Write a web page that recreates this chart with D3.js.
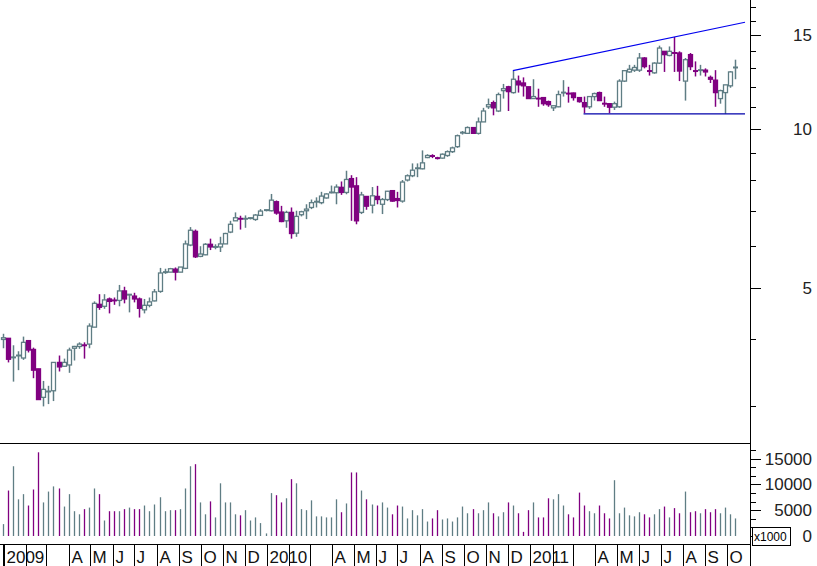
<!DOCTYPE html>
<html><head><meta charset="utf-8">
<script src="https://cdn.jsdelivr.net/npm/d3@7"></script>
<style>body{margin:0;background:#fff}svg{display:block}text{font-family:"Liberation Sans",Arial,sans-serif}</style>
</head><body>
<script>
const opens  =[4.00,4.02,3.69,3.71,3.69,3.98,3.83,3.52,3.11,3.19,3.20,3.62,3.56,3.58,3.85,3.88,3.92,3.92,4.22,4.66,4.62,4.77,4.75,4.74,4.94,4.85,4.83,4.77,4.55,4.64,4.73,4.93,5.33,5.36,5.43,5.36,5.45,6.03,6.40,5.74,5.78,6.05,5.97,5.98,6.06,6.38,6.70,6.80,6.75,6.74,6.74,6.86,7.00,7.00,7.28,6.96,6.70,6.95,6.35,6.88,7.00,7.10,7.25,7.25,7.40,7.54,7.57,7.75,7.58,8.05,7.80,6.95,7.45,7.17,7.45,7.20,7.35,7.64,7.38,7.30,8.00,8.15,8.38,8.40,8.82,8.92,8.85,8.80,8.90,9.05,9.25,9.80,9.80,10.05,9.80,10.30,11.00,11.20,10.80,11.80,12.00,11.70,12.30,12.20,12.00,11.40,11.45,11.45,11.25,10.95,11.00,11.65,11.70,11.68,11.45,11.20,11.00,11.50,11.70,11.20,11.15,10.98,11.00,12.30,12.80,12.90,12.90,13.60,12.90,12.75,13.30,14.00,13.75,13.95,13.90,12.30,13.80,12.90,12.85,12.90,12.50,12.35,11.40,11.70,12.05,13.00];
const highs  =[4.10,4.02,3.90,3.80,4.05,3.98,3.86,3.52,3.34,3.27,3.62,3.73,3.68,3.86,3.89,3.95,3.95,4.29,4.72,4.87,4.87,4.80,4.80,5.07,5.03,4.87,4.90,4.80,4.77,4.80,4.98,5.46,5.44,5.46,5.47,5.48,6.15,6.52,6.45,6.00,6.08,6.20,6.05,6.25,6.36,6.70,6.95,6.85,6.86,6.80,6.90,7.05,7.03,7.53,7.32,7.15,7.00,7.10,7.00,7.00,7.20,7.35,7.42,7.60,7.55,7.81,7.85,7.95,8.33,8.17,8.10,7.60,7.45,7.76,7.80,7.40,7.63,7.66,7.60,8.00,8.20,8.60,8.60,9.10,8.95,8.95,8.85,8.98,9.10,9.25,9.75,9.90,10.10,10.05,10.50,10.95,11.40,11.30,11.70,12.15,12.05,12.87,12.60,12.50,12.00,12.40,11.90,11.45,11.30,11.05,11.80,12.35,12.00,11.70,11.45,11.50,11.50,11.70,11.75,11.50,11.15,11.25,12.40,12.90,13.20,13.20,13.90,13.65,13.20,13.35,14.35,14.00,14.30,14.90,14.00,13.60,13.90,13.40,13.20,13.00,12.60,12.90,11.85,12.10,12.85,13.50];
const lows   =[3.85,3.62,3.33,3.50,3.66,3.78,3.38,3.08,2.99,3.02,3.06,3.48,3.55,3.46,3.65,3.84,3.68,3.85,4.22,4.55,4.57,4.48,4.65,4.62,4.68,4.50,4.70,4.40,4.48,4.60,4.72,4.90,5.32,5.36,5.17,5.36,5.43,6.00,5.70,5.72,5.77,5.90,5.92,5.85,6.06,6.35,6.70,6.45,6.50,6.74,6.70,6.85,6.98,6.98,6.88,6.66,6.50,6.20,6.25,6.83,6.75,7.05,7.10,7.20,7.38,7.55,7.20,7.50,7.52,6.70,6.60,6.90,7.03,6.92,7.20,6.90,7.30,7.28,7.10,7.25,7.95,8.10,8.10,8.38,8.80,8.80,8.75,8.78,8.85,9.00,9.20,9.75,9.80,9.80,9.75,10.30,10.90,10.60,10.75,11.40,10.80,11.65,11.70,11.50,11.40,11.40,11.00,11.05,11.00,10.80,10.98,11.50,11.20,11.30,11.20,10.70,10.90,11.30,11.30,11.00,10.70,10.85,10.95,12.25,12.75,12.80,12.80,13.00,12.60,12.70,13.25,12.80,13.70,12.80,12.30,11.30,12.90,12.55,12.60,12.55,12.20,11.00,11.15,10.67,11.95,12.40];
const closes =[4.03,3.67,3.70,3.73,3.95,3.82,3.50,3.08,3.22,3.19,3.62,3.55,3.62,3.82,3.88,3.92,3.90,4.24,4.68,4.60,4.75,4.72,4.74,4.94,4.77,4.86,4.77,4.58,4.64,4.71,4.92,5.34,5.36,5.44,5.36,5.48,6.06,6.43,5.73,5.80,6.05,5.98,5.98,6.06,6.34,6.60,6.79,6.76,6.76,6.78,6.87,6.99,7.02,7.33,6.93,6.68,6.95,6.34,6.83,6.97,7.05,7.25,7.28,7.46,7.53,7.58,7.76,7.58,8.02,7.76,6.70,7.50,7.14,7.47,7.35,7.35,7.62,7.30,7.32,7.93,8.15,8.35,8.42,8.62,8.90,8.88,8.80,8.95,9.05,9.20,9.70,9.83,10.05,9.80,10.30,10.80,11.10,10.95,11.60,11.90,11.75,12.40,12.10,12.05,11.40,11.50,11.40,11.15,11.10,11.05,11.60,11.70,11.65,11.45,11.25,11.00,11.50,11.65,11.30,11.15,10.98,11.15,12.30,12.87,12.95,13.05,13.60,13.10,12.85,13.30,14.20,13.80,14.00,13.90,12.85,13.50,13.10,12.85,12.90,12.80,12.40,11.70,11.80,12.10,12.80,13.05];
// volume in thousands
const volumes=[2.3,8.8,13.5,7.1,8.1,5.9,9.0,16.2,6.5,8.6,9.6,9.2,5.7,8.1,4.8,4.2,5.2,5.5,9.2,8.1,3.0,4.8,4.8,4.8,5.2,5.5,5.2,5.2,5.9,4.8,6.1,7.5,4.8,5.0,5.0,5.2,9.2,13.5,13.9,6.5,4.2,6.7,3.6,10.2,6.5,6.5,4.2,4.0,5.0,3.0,3.6,2.5,0.5,8.3,7.9,6.5,7.3,11.0,10.2,5.2,5.0,6.9,3.8,3.8,3.6,3.6,7.1,4.6,6.3,12.3,12.3,8.8,7.1,6.1,5.9,6.5,5.5,4.2,5.9,5.7,3.4,5.0,4.0,5.2,2.8,3.4,5.0,3.2,3.4,2.8,3.6,5.7,4.4,5.2,4.4,5.0,6.5,4.4,3.8,4.6,6.5,5.9,4.4,0.8,5.0,6.5,3.6,3.6,7.3,7.1,8.1,5.9,4.2,3.6,8.4,5.9,4.8,4.4,5.9,4.4,3.4,10.8,4.4,5.5,4.0,3.8,4.6,4.2,3.6,4.2,5.2,5.7,3.6,5.4,4.4,8.6,4.6,4.8,4.4,5.2,4.6,5.2,4.4,5.5,4.2,3.4];
const firstWeek = new Date(2008,11,31);
const priceTicks=[5,10,15];
const volumeTicks=[0,5000,10000,15000];
const monthLabels=["","","","A","M","J","J","A","S","O","N","D"];
// trend lines: [candle index, price]
const upperTrend=[[101,12.87],[133,14.9]];
const supportLine=[[115,10.67]];

const W=817,H=566, axisX=750, plotR=745;
const gray="#5f7d84", purple="#800080";
const dates=opens.map((_,i)=>d3.timeDay.offset(firstWeek,7*i));
const x=d3.scaleTime().domain([new Date(2008,11,31),new Date(2011,9,30)]).range([3,plotR+3]);
const y=d3.scaleLog().domain([2.55,17.5]).range([443,0]);
const yv=d3.scaleLinear().domain([0,15000]).range([536,458.5]);

const svg=d3.select("body").append("svg").attr("width",W).attr("height",H);

// price candles
const g=svg.append("g");
opens.forEach((o,i)=>{
  const c=closes[i], up=c>=o, col=up?gray:purple, cx=Math.round(x(dates[i]))+0.5;
  g.append("line").attr("x1",cx).attr("x2",cx).attr("y1",y(highs[i])).attr("y2",y(lows[i])).attr("stroke",col).attr("stroke-width",1.5);
  const top=y(Math.max(o,c)), bot=y(Math.min(o,c)), h=Math.max(bot-top,1.5);
  if(Math.abs(bot-top)<1.5){
    g.append("line").attr("x1",cx-2.5).attr("x2",cx+2.5).attr("y1",y(c)).attr("y2",y(c)).attr("stroke",col).attr("stroke-width",2);
  } else {
    g.append("rect").attr("x",cx-2).attr("width",4).attr("y",top).attr("height",h)
      .attr("fill",up?"#fff":purple).attr("stroke",col).attr("stroke-width",1.3);
  }
});
// trend lines
const lastX=plotR;
const [a,b]=upperTrend;
const xa=x(dates[a[0]]), xb=x(dates[b[0]]);
const slope=(Math.log(b[1])-Math.log(a[1]))/(xb-xa);
const endP=Math.exp(Math.log(a[1])+slope*(lastX-xa));
svg.append("line").attr("x1",xa).attr("y1",y(a[1])).attr("x2",lastX).attr("y2",y(endP)).attr("stroke","#0000ee").attr("stroke-width",1.2);
svg.append("line").attr("x1",x(dates[supportLine[0][0]])).attr("y1",y(supportLine[0][1])).attr("x2",lastX).attr("y2",y(supportLine[0][1])).attr("stroke","#0000aa").attr("stroke-width",1.2);

// volume bars
volumes.forEach((v,i)=>{
  if(i>=opens.length) return;
  const cx=Math.round(x(dates[i]))+0.5;
  svg.append("line").attr("x1",cx).attr("x2",cx).attr("y1",yv(0)).attr("y2",yv(v*1000))
    .attr("stroke",closes[i]>=opens[i]?gray:purple).attr("stroke-width",1.3);
});

// frame lines
svg.append("line").attr("x1",0).attr("x2",axisX).attr("y1",443.5).attr("y2",443.5).attr("stroke","#000");
svg.append("line").attr("x1",axisX+0.5).attr("x2",axisX+0.5).attr("y1",0).attr("y2",566).attr("stroke","#000");

// price axis
const minor=d3.range(3,18).filter(v=>!priceTicks.includes(v));
minor.forEach(v=>svg.append("line").attr("x1",axisX).attr("x2",axisX+6).attr("y1",Math.round(y(v))+0.5).attr("y2",Math.round(y(v))+0.5).attr("stroke","#000"));
priceTicks.forEach(v=>{
  svg.append("line").attr("x1",axisX).attr("x2",axisX+11).attr("y1",Math.round(y(v))+0.5).attr("y2",Math.round(y(v))+0.5).attr("stroke","#000");
  svg.append("text").attr("x",812).attr("y",y(v)+6).attr("text-anchor","end").attr("font-size",17).attr("fill","#222").text(v);
});
// volume axis
d3.range(0,17500,5000/3).forEach(v=>svg.append("line").attr("x1",axisX).attr("x2",axisX+6).attr("y1",Math.round(yv(v))+0.5).attr("y2",Math.round(yv(v))+0.5).attr("stroke","#000"));
volumeTicks.forEach(v=>{
  svg.append("line").attr("x1",axisX).attr("x2",axisX+11).attr("y1",Math.round(yv(v))+0.5).attr("y2",Math.round(yv(v))+0.5).attr("stroke","#000");
  svg.append("text").attr("x",812).attr("y",yv(v)+6).attr("text-anchor","end").attr("font-size",17).attr("fill","#222").text(v);
});
svg.append("rect").attr("x",752.5).attr("y",527.5).attr("width",38).attr("height",18).attr("fill","#fff").attr("stroke","#000");
svg.append("text").attr("x",754).attr("y",541).attr("font-size",12).attr("fill","#000").text("x1000");

// time axis
svg.append("line").attr("x1",0).attr("x2",axisX).attr("y1",544.5).attr("y2",544.5).attr("stroke","#000");
const months=d3.timeMonth.range(new Date(2009,0,1),new Date(2011,10,1));
svg.append("line").attr("x1",3.5).attr("x2",3.5).attr("y1",544).attr("y2",566).attr("stroke","#000");
months.forEach(m=>{
  const mx=Math.round(x(m))+0.5;
  svg.append("line").attr("x1",mx).attr("x2",mx).attr("y1",544).attr("y2",566).attr("stroke","#000");
  const lab=m.getMonth()===0?String(m.getFullYear()):monthLabels[m.getMonth()];
  if(lab) svg.append("text").attr("x",mx+2).attr("y",563).attr("font-size",17).attr("fill","#111").text(lab);
});
</script>
</body></html>
